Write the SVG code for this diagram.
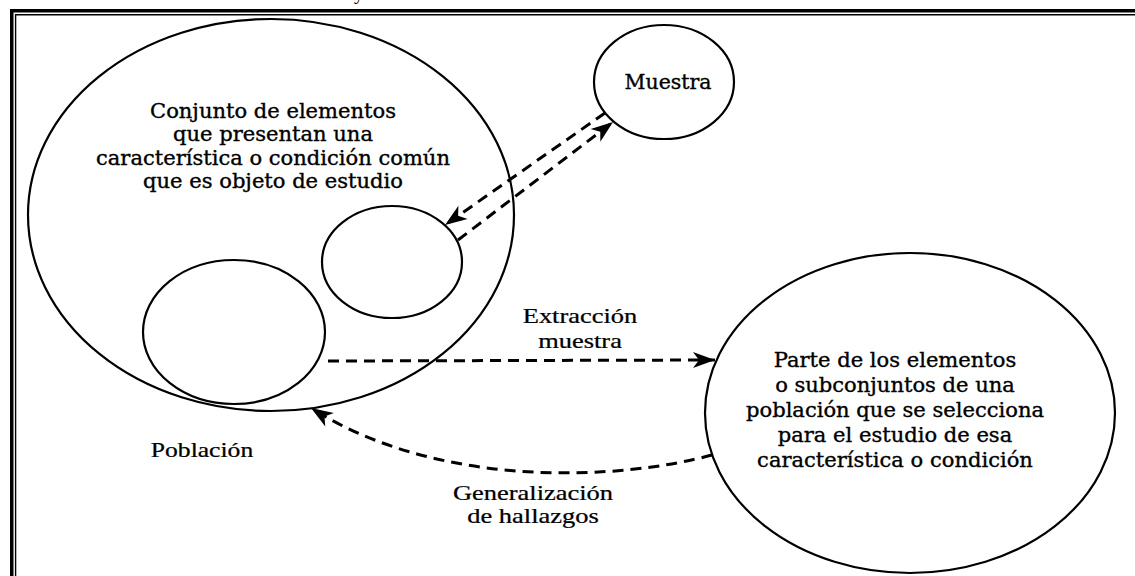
<svg xmlns="http://www.w3.org/2000/svg" width="1135" height="576" viewBox="0 0 1135 576">
<style>
.node{fill:none;stroke:#000;stroke-width:2.2}
.ct{font-family:"DejaVu Serif","Liberation Serif",serif;font-size:19.5px;fill:#000;stroke:#000;stroke-width:0.35;text-anchor:middle}
.lb{font-family:"Liberation Serif","Times New Roman",serif;font-size:21px;fill:#000;stroke:#000;stroke-width:0.25;text-anchor:middle}
.dash{fill:none;stroke:#000;stroke-width:3;stroke-dasharray:11 7}
</style>
<defs>
<marker id="ah" markerUnits="userSpaceOnUse" markerWidth="24" markerHeight="16" refX="22" refY="8" orient="auto" overflow="visible">
<path d="M0,0 L22,8 L0,16 L6,8 Z" fill="#000"/>
</marker>
</defs>
<rect width="1135" height="576" fill="#fff"/>
<g id="frame" fill="none" stroke="#000">
<path d="M11.75,576 V10.8 H1135" stroke-width="3.5"/>
<path d="M15.6,576 V14.7 H1135" stroke-width="1.4"/>
</g>
<text x="354" y="-1.3" font-family="Liberation Serif,serif" font-size="20">y</text>
<g id="poblacion">
<ellipse class="node" cx="271" cy="215" rx="243" ry="196"/>
<g transform="translate(273 0) scale(1.08 1)">
<text class="ct" x="0" y="118">Conjunto de elementos</text>
<text class="ct" x="0" y="141">que presentan una</text>
<text class="ct" x="0" y="165">característica o condición común</text>
<text class="ct" x="0" y="188">que es objeto de estudio</text>
</g>
<text class="lb" transform="translate(202 457) scale(1.22 1)">Población</text>
</g>
<g id="sub1">
<ellipse class="node" cx="392" cy="262" rx="70" ry="56"/>
</g>
<g id="sub2">
<ellipse class="node" cx="234" cy="332" rx="91" ry="72"/>
</g>
<g id="muestra">
<ellipse class="node" cx="664" cy="82" rx="70" ry="57"/>
<text class="ct" transform="translate(668 89) scale(1.05 1)">Muestra</text>
</g>
<g id="parte">
<ellipse class="node" cx="910" cy="413" rx="205" ry="160"/>
<g transform="translate(895 0) scale(1.08 1)">
<text class="ct" x="0" y="367">Parte de los elementos</text>
<text class="ct" x="0" y="392">o subconjuntos de una</text>
<text class="ct" x="0" y="417">población que se selecciona</text>
<text class="ct" x="0" y="442">para el estudio de esa</text>
<text class="ct" x="0" y="467">característica o condición</text>
</g>
</g>
<g id="connectors">
<path class="dash" d="M605,113 L445,225" marker-end="url(#ah)"/>
<path class="dash" d="M458,240 L613,122" marker-end="url(#ah)"/>
<path class="dash" d="M328,361 L715,360" marker-end="url(#ah)"/>
<path class="dash" d="M712,455 C620,480 440,490 311,408" marker-end="url(#ah)"/>
<text class="lb" transform="translate(580 323) scale(1.26 1)">Extracción</text>
<text class="lb" transform="translate(580 348) scale(1.26 1)">muestra</text>
<text class="lb" transform="translate(533 500) scale(1.26 1)">Generalización</text>
<text class="lb" transform="translate(533 523) scale(1.26 1)">de hallazgos</text>
</g>
</svg>
